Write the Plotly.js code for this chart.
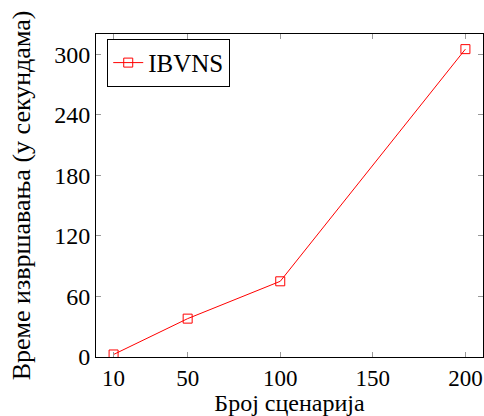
<!DOCTYPE html>
<html>
<head>
<meta charset="utf-8">
<script src="https://cdn.plot.ly/plotly-3.0.1.min.js"></script>
<style>html,body{margin:0;padding:0;background:#fff;}#chart{width:484px;height:416px;}</style>
</head>
<body>
<div id="chart"></div>
<script>
const scenarios = [10, 50, 100, 200];
const runtimes = [2.5, 38, 75, 305];
const seriesName = "IBVNS";
const xTicks = [10, 50, 100, 150, 200];
const yTicks = [0, 60, 120, 180, 240, 300];
const xTitle = "Број сценарија";
const yTitle = "Време извршавања (у секундама)";

const fam = "Liberation Serif";
const tickFont = {family: fam, size: 24, color: "#000"};
const xTickFont = {family: fam, size: 23, color: "#000"};
const titleFont = {family: fam, size: 26, color: "#000"};
const xTitleFont = {family: fam, size: 24, color: "#000"};
const legendFont = {family: fam, size: 25, color: "#000"};

const trace = {
  x: scenarios, y: runtimes, name: seriesName, type: "scatter", mode: "lines+markers",
  line: {color: "#ff0000", width: 1},
  marker: {symbol: "square-open", size: 9, color: "#ff0000", line: {width: 1, color: "#ff0000"}}
};

const axisCommon = {
  showline: true, linecolor: "#000", linewidth: 1, mirror: "ticks",
  ticks: "inside", ticklen: 5, tickcolor: "#999", tickwidth: 1,
  showgrid: false, zeroline: false, tickfont: tickFont
};

const layout = {
  width: 484, height: 416,
  margin: {l: 96, r: 1, t: 34, b: 59},
  paper_bgcolor: "#fff", plot_bgcolor: "#fff",
  font: tickFont,
  showlegend: true,
  legend: {x: 0.029, y: 0.985, xanchor: "left", yanchor: "top", bgcolor: "#fff",
           bordercolor: "#000", borderwidth: 1, font: legendFont},
  xaxis: Object.assign({}, axisCommon, {
    range: [0.5, 209.5], tickmode: "array", tickvals: xTicks, ticktext: xTicks.map(String),
    tickfont: xTickFont,
    title: {text: xTitle, font: xTitleFont, standoff: 8}
  }),
  yaxis: Object.assign({}, axisCommon, {
    range: [0, 320], tickmode: "array", tickvals: yTicks, ticktext: yTicks.map(String),
    title: {text: yTitle, font: titleFont, standoff: 16}
  })
};

Plotly.newPlot("chart", [trace], layout, {displayModeBar: false, staticPlot: true});
</script>
</body>
</html>
